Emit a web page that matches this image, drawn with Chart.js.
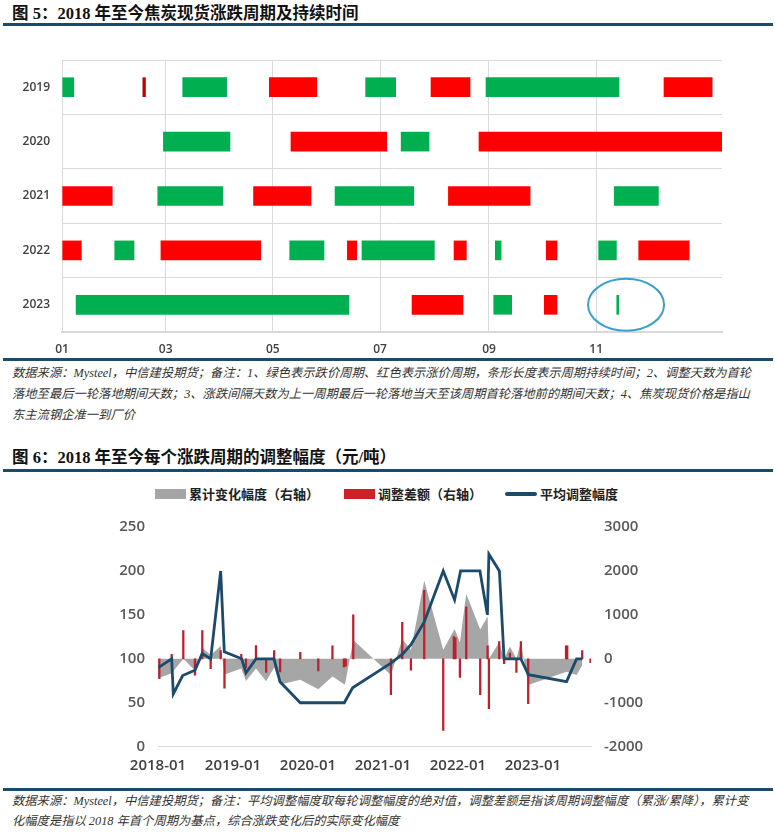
<!DOCTYPE html>
<html><head><meta charset="utf-8">
<script src="https://cdn.jsdelivr.net/npm/chart.js@4.4.0/dist/chart.umd.min.js"></script>
<style>
html,body{margin:0;padding:0;background:#fff;}
body{width:775px;height:834px;position:relative;overflow:hidden;font-family:"Noto Sans CJK SC",sans-serif;}
.title{position:absolute;left:12px;font-family:"Liberation Serif","Noto Sans CJK SC",serif;font-weight:bold;font-size:16.5px;color:#111;white-space:nowrap;line-height:20px;}
.rule{position:absolute;left:3px;width:770px;height:3px;background:#1C4A6A;}
.note{position:absolute;left:12px;font-family:"Liberation Serif","Noto Sans CJK SC",serif;font-style:italic;font-size:12.3px;color:#333;white-space:nowrap;}
.note div{height:21px;line-height:21px;}
#w1{position:absolute;left:0;top:28px;width:775px;height:330px;}
#w2{position:absolute;left:0;top:505px;width:775px;height:280px;}
.lg{position:absolute;top:485px;height:18px;line-height:18px;font-size:13px;font-weight:bold;color:#222;white-space:nowrap;}
.sw{position:absolute;}
</style></head>
<body>
<div class="title" style="top:4px;">图 5：2018 年至今焦炭现货涨跌周期及持续时间</div>
<div class="rule" style="top:23px;"></div>
<div id="w1"><canvas id="c1"></canvas></div>
<div class="rule" style="top:358px;"></div>
<div class="note" style="top:363px;">
<div>数据来源：Mysteel，中信建投期货；备注：1、绿色表示跌价周期、红色表示涨价周期，条形长度表示周期持续时间；2、调整天数为首轮</div>
<div>落地至最后一轮落地期间天数；3、涨跌间隔天数为上一周期最后一轮落地当天至该周期首轮落地前的期间天数；4、焦炭现货价格是指山</div>
<div>东主流钢企准一到厂价</div>
</div>
<div class="title" style="top:448px;">图 6：2018 年至今每个涨跌周期的调整幅度（元/吨）</div>
<div class="rule" style="top:469px;"></div>
<div class="sw" style="left:155px;top:489px;width:31px;height:10px;background:#A5A5A5;"></div>
<div class="lg" style="left:189px;">累计变化幅度（右轴）</div>
<div class="sw" style="left:344px;top:489px;width:31px;height:10px;background:#D21F26;"></div>
<div class="lg" style="left:378px;">调整差额（右轴）</div>
<div class="sw" style="left:505px;top:492px;width:32px;height:4px;border-radius:2px;background:#1B4A6B;"></div>
<div class="lg" style="left:540px;">平均调整幅度</div>
<div id="w2"><canvas id="c2"></canvas></div>
<div class="rule" style="top:788px;"></div>
<div class="note" style="top:791px;">
<div style="height:20px;line-height:20px;">数据来源：Mysteel，中信建投期货；备注：平均调整幅度取每轮调整幅度的绝对值，调整差额是指该周期调整幅度（累涨/累降），累计变</div>
<div style="height:20px;line-height:20px;">化幅度是指以 2018 年首个周期为基点，综合涨跌变化后的实际变化幅度</div>
</div>
<script>
// ---------- Figure 5 data (day of year) ----------
const rowYears = ['2019','2020','2021','2022','2023'];
const monthTickDays = [0, 59, 120, 181, 243, 304];
const monthTickLabels = ['01','03','05','07','09','11'];
const axisEndDay = 375.6;
// 跌价周期 (green): [year, startDay, endDay]
const fallCycles = [
  ['2019',0.4,6.7],['2019',68.7,93.7],['2019',172.8,189.9],['2019',241.3,317],
  ['2020',57.7,95.6],['2020',193,208.9],
  ['2021',54.5,91.5],['2021',155.4,200.2],['2021',314.3,339.4],
  ['2022',30,41],['2022',129.6,149.1],['2022',170.7,211.9],['2022',246.6,249.9],['2022',305.4,315.5],
  ['2023',8,163.3],['2023',245.7,255.9],['2023',315.7,316.8]
];
// 涨价周期 (red)
const riseCycles = [
  ['2019',118,145],['2019',210,232.2],['2019',342.6,370],
  ['2020',130.3,184.8],['2020',237.3,376],
  ['2021',0.4,28.6],['2021',109,141.7],['2021',219.9,266.4],
  ['2022',0.4,11],['2022',56.3,113.1],['2022',162.4,167.7],['2022',223.1,230.1],['2022',275.6,281.7],['2022',328.2,356.9],
  ['2023',199.2,228.2],['2023',274.5,281.7]
];
const shortRiseCycles = [['2019',46,47.5]];
const markedYear = '2023';
const markedDay = 321;

// ---------- Figure 6 data (months since 2018-01) ----------
const yearTickMonths = [0, 12, 24, 36, 48, 60];
const yearTickLabels = ['2018-01','2019-01','2020-01','2021-01','2022-01','2023-01'];
const avgMonths = [0.05,2.19,2.45,3.95,5.92,7.09,8.43,10.03,10.61,13.39,14.08,15.68,17.28,18.56,19.52,22.77,25.65,27.92,29.81,31.15,37.28,39.09,40.48,42.61,45.65,47.47,48.43,51.52,52.72,52.96,54.64,55.39,58.08,59.28,65.39,66.99,67.89];
const avgValues = [90,100,60,81,87,106,100,200,108,100,84,100,100,100,74,50,50,50,50,67,95,105,116,142,200,167,200,200,150,219,200,100,100,82,74,100,100];
const diffMonths = [0.21,2.19,4.05,5.92,7.09,8.43,10.03,10.64,13.33,14.08,15.68,17.31,18.59,19.55,22.77,25.65,27.92,29.75,30.05,31.25,37.28,39.09,40.48,42.61,45.65,47.35,47.6,48.32,49.33,51.57,52.75,52.96,54.61,55.39,56.32,57.36,58.08,59.25,65.3,65.5,67.89,69.23];
const diffValues = [-450,100,640,-370,640,-222,190,-667,100,-200,300,-311,187,-300,148,-274,296,-185,-170,1000,-815,830,-259,1556,-1630,504,480,-422,1185,-815,296,-1133,390,-111,130,-311,390,-1022,296,296,185,-90];
const cumMonths = [0.05,2.19,4.05,5.92,7.09,8.43,10.03,10.64,13.33,14.08,15.68,17.31,18.59,19.55,22.77,25.65,27.92,29.92,31.25,37.28,39.09,40.48,42.61,45.65,47.47,48.32,49.33,51.57,52.75,52.96,54.61,55.39,56.32,57.36,58.08,59.25,65.39,66.99,67.89];
const cumValues = [-444,-330,0,-267,250,89,289,-356,-222,-504,-220,-510,-200,-585,-475,-695,-400,-590,430,-370,444,207,1778,207,681,370,1481,667,963,0,370,0,281,0,385,-593,-296,-370,-148];

const tickFont1 = {family:'"Open Sans", sans-serif', size:12, weight:'600'};
const tickFont2 = {family:'"Open Sans", sans-serif', size:15, weight:'600'};

const toBar = arr => arr.map(c => ({y:c[0], x:[c[1], c[2]]}));

const ellipsePlugin = {
  id:'markEllipse',
  afterDatasetsDraw(chart){
    const {ctx, scales:{x, y}} = chart;
    const cx = x.getPixelForValue(markedDay);
    const cy = y.getPixelForValue(rowYears.indexOf(markedYear));
    ctx.save();
    ctx.beginPath();
    ctx.ellipse(cx, cy, 38, 26, 0, 0, Math.PI*2);
    ctx.strokeStyle = '#3A9FD0';
    ctx.lineWidth = 2;
    ctx.stroke();
    ctx.restore();
  }
};

new Chart(document.getElementById('c1'), {
  type:'bar',
  data:{
    labels: rowYears,
    datasets:[
      {label:'跌价周期', data: toBar(fallCycles), backgroundColor:'#00B050', grouped:false, barThickness:19},
      {label:'涨价周期', data: toBar(riseCycles), backgroundColor:'#FF0000', grouped:false, barThickness:19},
      {label:'涨价周期(短)', data: toBar(shortRiseCycles), backgroundColor:'#C00000', grouped:false, barThickness:19}
    ]
  },
  options:{
    indexAxis:'y', responsive:true, maintainAspectRatio:false, animation:false,
    layout:{padding:{top:32, right:53, left:0, bottom:0}},
    plugins:{legend:{display:false}, tooltip:{enabled:false}},
    scales:{
      x:{type:'linear', min:0, max:axisEndDay, offset:false, z:1,
        afterBuildTicks: s => { s.ticks = monthTickDays.map(v => ({value:v})); },
        ticks:{autoSkip:false, maxRotation:0, padding:10, color:'#404040', font:tickFont1,
          callback: v => monthTickLabels[monthTickDays.indexOf(v)]},
        grid:{color:'#D9D9D9', drawTicks:false},
        border:{color:'#D9D9D9', width:2},
        afterFit: s => { s.height = 26; }
      },
      y:{type:'category',
        ticks:{padding:12, color:'#404040', font:tickFont1},
        grid:{color:'#D9D9D9', drawTicks:false, offset:true},
        border:{color:'#D9D9D9'},
        afterFit: s => { s.width = 62; }
      }
    }
  },
  plugins:[ellipsePlugin]
});

new Chart(document.getElementById('c2'), {
  type:'bar',
  data:{
    datasets:[
      {type:'line', label:'平均调整幅度', yAxisID:'y', data: avgMonths.map((m,i)=>({x:m, y:avgValues[i]})),
        borderColor:'#1B4A6B', borderWidth:2.8, pointRadius:0, fill:false, tension:0, order:0},
      {type:'bar', label:'调整差额（右轴）', yAxisID:'y1', data: diffMonths.map((m,i)=>({x:m, y:diffValues[i]})),
        backgroundColor:'#BE1E2D', barThickness:1.6, order:1},
      {type:'line', label:'累计变化幅度（右轴）', yAxisID:'y1', data: cumMonths.map((m,i)=>({x:m, y:cumValues[i]})),
        backgroundColor:'#A6A6A6', borderColor:'rgba(0,0,0,0)', borderWidth:0, pointRadius:0, fill:'origin', tension:0, order:2}
    ]
  },
  options:{
    responsive:true, maintainAspectRatio:false, animation:false,
    layout:{padding:{top:16.7, right:0, left:0, bottom:0}},
    plugins:{legend:{display:false}, tooltip:{enabled:false}},
    scales:{
      x:{type:'linear', min:0, max:69.3, offset:false,
        afterBuildTicks: s => { s.ticks = yearTickMonths.map(v => ({value:v})); },
        ticks:{autoSkip:false, maxRotation:0, padding:10, color:'#404040', font:tickFont2,
          callback: v => yearTickLabels[yearTickMonths.indexOf(v)]},
        grid:{display:false, drawTicks:false},
        border:{display:true, color:'#D9D9D9', width:1},
        afterFit: s => { s.height = 38.3; }
      },
      y:{position:'left', min:0, max:250,
        ticks:{stepSize:50, padding:13, color:'#595959', font:tickFont2, callback: v => String(v)},
        grid:{display:false, drawTicks:false}, border:{display:false},
        afterFit: s => { s.width = 158; }
      },
      y1:{position:'right', min:-2000, max:3000,
        ticks:{stepSize:1000, padding:13, color:'#595959', font:tickFont2, callback: v => String(v)},
        grid:{display:false, drawTicks:false}, border:{display:false},
        afterFit: s => { s.width = 184; }
      }
    }
  }
});
</script>
</body></html>
